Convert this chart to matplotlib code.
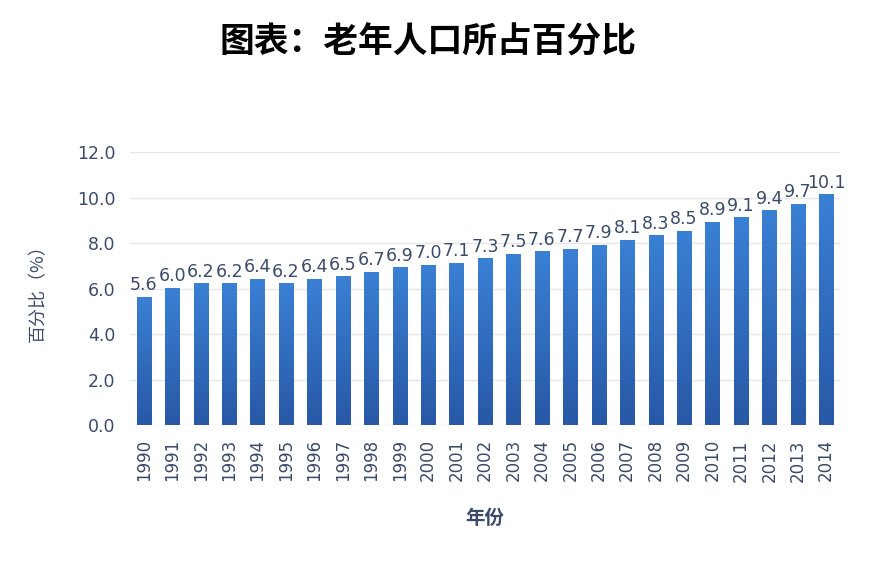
import matplotlib
matplotlib.use('Agg')
import matplotlib.pyplot as plt
import numpy as np
from matplotlib.colors import LinearSegmentedColormap

plt.rcParams['font.family'] = ['Noto Sans CJK SC', 'DejaVu Sans']

# data
years = ['1990', '1991', '1992', '1993', '1994', '1995', '1996', '1997', '1998', '1999',
         '2000', '2001', '2002', '2003', '2004', '2005', '2006', '2007', '2008', '2009',
         '2010', '2011', '2012', '2013', '2014']
share = [5.6, 6.0, 6.2, 6.2, 6.4, 6.2, 6.4, 6.5, 6.7, 6.9,
         7.0, 7.1, 7.3, 7.5, 7.6, 7.7, 7.9, 8.1, 8.3, 8.5,
         8.9, 9.1, 9.4, 9.7, 10.1]
yticks = [0, 2, 4, 6, 8, 10, 12]

txt_col = '#3b4a6b'

fig = plt.figure(figsize=(8.7, 5.67), dpi=100)
ax = fig.add_axes([0.149, 0.25, 0.817, 0.482])

x = np.arange(len(years))
bars = ax.bar(x, share, width=0.5, color='none', zorder=3)

# vertical gradient inside each bar
cmap = LinearSegmentedColormap.from_list('g', ['#2858a6', '#3a80d4'])
grad = np.linspace(0, 1, 256).reshape(-1, 1)
for b in bars:
    x0, w, h = b.get_x(), b.get_width(), b.get_height()
    ax.imshow(grad, cmap=cmap, origin='lower', aspect='auto',
              extent=(x0, x0 + w, 0, h), zorder=3)

for xi, v in zip(x, share):
    ax.text(xi, v + 0.15, f'{v:.1f}', ha='center', va='bottom',
            fontsize=12.5, color=txt_col, family='DejaVu Sans', zorder=4)

ax.set_xlim(-0.5, len(years) - 0.5)
ax.set_ylim(0, 12)
ax.set_yticks(yticks)
ax.set_yticklabels([f'{t:.1f}' for t in yticks], family='DejaVu Sans',
                   fontsize=12.5, color=txt_col)
ax.set_xticks(x)
ax.set_xticklabels(years, rotation=90, family='DejaVu Sans', fontsize=12,
                   color=txt_col)
ax.tick_params(axis='y', length=0, pad=10)
ax.tick_params(axis='x', length=0, pad=10)
ax.grid(axis='y', color='#e6e6e6', linewidth=1, zorder=0)
for s in ax.spines.values():
    s.set_visible(False)

ax.set_ylabel('百分比（%）', fontsize=13, color=txt_col, labelpad=22)
ax.set_xlabel('年份', fontsize=14, fontweight='bold', color=txt_col, labelpad=20)

fig.text(0.492, 0.925, '图表：老年人口所占百分比', ha='center', va='center',
         fontsize=25, fontweight='bold', color='black')

fig.savefig('out.png', dpi=100)
